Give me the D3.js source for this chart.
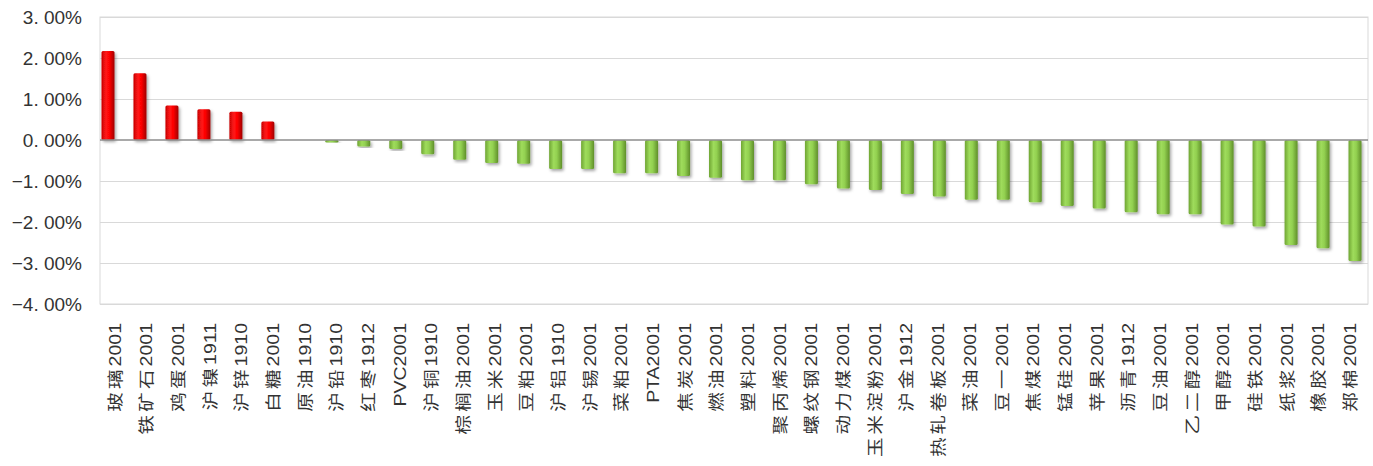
<!DOCTYPE html>
<html>
<head>
<meta charset="utf-8">
<script src="https://cdn.jsdelivr.net/npm/d3@7"></script>
<style>
  body { margin: 0; background: #fff; }
  svg text { font-family: "Liberation Sans", Arial, "Noto Sans CJK SC", sans-serif; }
</style>
</head>
<body>
<svg id="chart" width="1373" height="466"></svg>
<script>
// Data (percent change)
const categories = ['玻璃2001','铁矿石2001','鸡蛋2001','沪镍1911','沪锌1910','白糖2001','原油1910','沪铅1910','红枣1912','PVC2001',
  '沪铜1910','棕榈油2001','玉米2001','豆粕2001','沪铝1910','沪锡2001','菜粕2001','PTA2001','焦炭2001','燃油2001',
  '塑料2001','聚丙烯2001','螺纹钢2001','动力煤2001','玉米淀粉2001','沪金1912','热轧卷板2001','菜油2001','豆一2001','焦煤2001',
  '锰硅2001','苹果2001','沥青1912','豆油2001','乙二醇2001','甲醇2001','硅铁2001','纸浆2001','橡胶2001','郑棉2001'];
const values = [2.17, 1.63, 0.84, 0.75, 0.69, 0.45, 0.0, -0.06, -0.16, -0.22,
  -0.35, -0.48, -0.56, -0.58, -0.71, -0.71, -0.81, -0.81, -0.88, -0.92,
  -0.98, -0.98, -1.08, -1.18, -1.22, -1.32, -1.38, -1.46, -1.46, -1.52,
  -1.61, -1.67, -1.76, -1.81, -1.81, -2.06, -2.11, -2.56, -2.64, -2.95];
const yTicks = [3, 2, 1, 0, -1, -2, -3, -4];

const svg = d3.select('#chart');
const plot = { left: 100, right: 1368, top: 17, bottom: 304 };

const y = d3.scaleLinear().domain([-4, 3]).range([plot.bottom, plot.top]);
// bars sit on a slightly wider band than the labels (perspective of original)
const xBar = d3.scaleBand().domain(categories).range([92, 1371]);
const xLab = d3.scaleBand().domain(categories).range([99, 1366]);

// gradients
const defs = svg.append('defs');
function grad(id, stops) {
  const g = defs.append('linearGradient').attr('id', id).attr('x1', 0).attr('x2', 1).attr('y1', 0).attr('y2', 0);
  stops.forEach(s => g.append('stop').attr('offset', s[0]).attr('stop-color', s[1]));
}
grad('gRed', [[0, '#c80000'], [0.35, '#ff1a1a'], [0.6, '#ff0000'], [1, '#a00000']]);
grad('gGreen', [[0, '#6fa533'], [0.35, '#9fdc5c'], [0.6, '#92d050'], [1, '#5f8f2a']]);
const f = defs.append('filter').attr('id', 'shadow').attr('x', '-50%').attr('y', '-20%').attr('width', '200%').attr('height', '140%');
f.append('feDropShadow').attr('dx', 1.5).attr('dy', 2).attr('stdDeviation', 1.5).attr('flood-color', '#000').attr('flood-opacity', 0.35);

// frame + grid
svg.append('rect')
  .attr('x', plot.left).attr('y', plot.top)
  .attr('width', plot.right - plot.left).attr('height', plot.bottom - plot.top)
  .attr('fill', 'none').attr('stroke', '#d9d9d9');

svg.append('g').selectAll('line')
  .data(yTicks.filter(d => d !== 0))
  .join('line')
  .attr('x1', plot.left).attr('x2', plot.right)
  .attr('y1', d => Math.round(y(d)) + 0.5).attr('y2', d => Math.round(y(d)) + 0.5)
  .attr('stroke', '#d9d9d9');

// y axis labels
const fmt = d => (d < 0 ? '−' : '') + Math.abs(d).toFixed(0) + '. 00%';
svg.append('g').selectAll('text')
  .data(yTicks)
  .join('text')
  .attr('x', 82).attr('y', d => y(d))
  .attr('dy', '0.36em')
  .attr('text-anchor', 'end')
  .attr('font-size', 19)
  .attr('fill', '#333')
  .text(fmt);

// bars
const bw = 13;
svg.append('g').selectAll('rect')
  .data(categories.map((c, i) => ({ c, v: values[i] })).filter(d => d.v !== 0))
  .join('rect')
  .attr('x', d => xBar(d.c) + xBar.bandwidth() / 2 - bw / 2)
  .attr('y', d => y(Math.max(0, d.v)))
  .attr('width', bw)
  .attr('height', d => Math.abs(y(d.v) - y(0)))
  .attr('rx', 1.5)
  .attr('fill', d => d.v > 0 ? 'url(#gRed)' : 'url(#gGreen)')
  .attr('filter', 'url(#shadow)');

// zero line
svg.append('line')
  .attr('x1', plot.left).attr('x2', plot.right)
  .attr('y1', y(0)).attr('y2', y(0))
  .attr('stroke', '#8c8c8c').attr('stroke-width', 1.5);

// x labels (rotated, stretched along the text direction like the original)
// CJK characters get a bit of extra spacing
function runs(s) {
  return s.match(/[\u4e00-\u9fff]+|[^\u4e00-\u9fff]+/g).map(t => ({ t, cjk: /[\u4e00-\u9fff]/.test(t) }));
}
svg.append('g').selectAll('text')
  .data(categories)
  .join('text')
  .attr('transform', d => `translate(${xLab(d) + xLab.bandwidth() / 2},323) rotate(-90) scale(1.22,1)`)
  .attr('dy', '0.36em')
  .attr('text-anchor', 'end')
  .attr('font-size', 16)
  .attr('fill', '#333')
  .selectAll('tspan')
  .data(d => runs(d))
  .join('tspan')
  .attr('letter-spacing', d => d.cjk ? 2.6 : 0)
  .text(d => d.t);
</script>
</body>
</html>
